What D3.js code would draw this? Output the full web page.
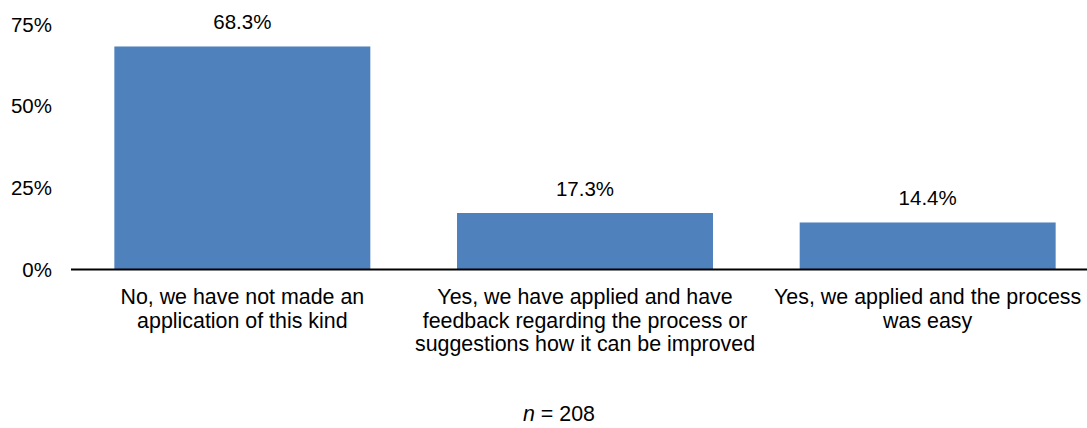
<!DOCTYPE html>
<html>
<head>
<meta charset="utf-8">
<script src="https://cdn.jsdelivr.net/npm/d3@7"></script>
<style>
  html, body { margin: 0; padding: 0; background: #fff; }
  svg { display: block; }
  text { font-family: "Liberation Sans", Arial, sans-serif; fill: #000; }
</style>
</head>
<body>
<svg id="chart" width="1087" height="428"></svg>
<script>
// Survey responses (share of respondents)
const categories = [
  ["No, we have not made an", "application of this kind"],
  ["Yes, we have applied and have", "feedback regarding the process or", "suggestions how it can be improved"],
  ["Yes, we applied and the process", "was easy"]
];
const values = [68.3, 17.3, 14.4];
const yTicks = [0, 25, 50, 75];
const sampleSize = 208;

const svg = d3.select("#chart");
const W = 1087, H = 428;
const left = 71, right = 1099, baseY = 269.5, topY = 24.6;

const x = d3.scaleBand()
  .domain(d3.range(categories.length))
  .range([left, right])
  .paddingInner(0.253)
  .paddingOuter(0.1265);

const y = d3.scaleLinear().domain([0, 75]).range([baseY, topY]);

// y-axis labels (no axis line or tick marks)
const yAxis = d3.axisLeft(y)
  .tickValues(yTicks)
  .tickFormat(d => d + "%")
  .tickSize(0)
  .tickPadding(0);
const gy = svg.append("g").attr("transform", "translate(52,0)").call(yAxis);
gy.select(".domain").remove();
gy.selectAll("text")
  .attr("font-size", 20.5)
  .attr("font-family", "Liberation Sans, Arial, sans-serif")
  .attr("fill", "#000");

// bars
svg.append("g").selectAll("rect")
  .data(values)
  .join("rect")
  .attr("x", (d, i) => x(i))
  .attr("width", x.bandwidth())
  .attr("y", d => y(d))
  .attr("height", d => baseY - y(d))
  .attr("fill", "#4f81bd");

// value labels
svg.append("g").selectAll("text")
  .data(values)
  .join("text")
  .attr("x", (d, i) => x(i) + x.bandwidth() / 2)
  .attr("y", d => y(d) - 17)
  .attr("text-anchor", "middle")
  .attr("font-size", 20.5)
  .text(d => d.toFixed(1) + "%");

// baseline
svg.append("line")
  .attr("x1", left).attr("x2", W)
  .attr("y1", baseY).attr("y2", baseY)
  .attr("stroke", "#000")
  .attr("stroke-width", 1.8);

// category labels
const cat = svg.append("g").selectAll("text")
  .data(categories)
  .join("text")
  .attr("text-anchor", "middle")
  .attr("font-size", 21.4)
  .attr("transform", (d, i) => `translate(${x(i) + x.bandwidth() / 2},304)`);
cat.selectAll("tspan")
  .data(d => d)
  .join("tspan")
  .attr("x", 0)
  .attr("y", (d, j) => j * 23.6)
  .text(d => d);

// sample size note
const note = svg.append("text")
  .attr("x", 559)
  .attr("y", 421)
  .attr("text-anchor", "middle")
  .attr("font-size", 21.4);
note.append("tspan").attr("font-style", "italic").text("n");
note.append("tspan").text(" = " + sampleSize);
</script>
</body>
</html>
